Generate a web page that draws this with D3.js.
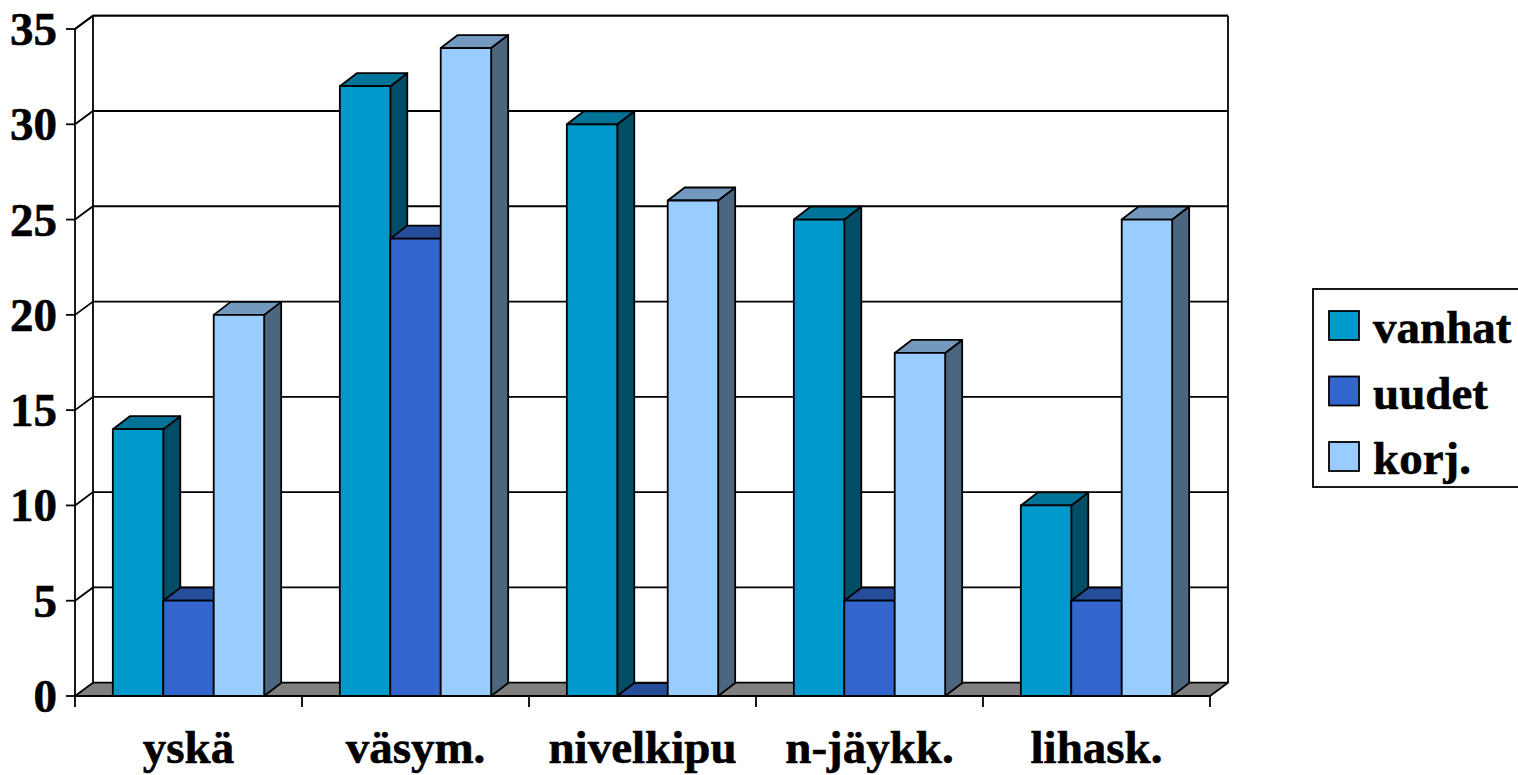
<!DOCTYPE html>
<html>
<head>
<meta charset="utf-8">
<script src="https://cdn.jsdelivr.net/npm/d3@7"></script>
<style>
  html, body { margin: 0; padding: 0; background: #fff; }
  svg { display: block; }
  text { font-family: "Liberation Serif", "Times New Roman", serif; font-weight: bold; stroke: #000; stroke-width: 0.6px; }
</style>
</head>
<body>
<svg id="chart" width="1518" height="775"></svg>
<script>
const categories = ["yskä", "väsym.", "nivelkipu", "n-jäykk.", "lihask."];
const seriesNames = ["vanhat", "uudet", "korj."];
const vanhat = [14, 32, 30, 25, 10];
const uudet  = [5, 24, 0, 5, 5];
const korj   = [20, 34, 26, 18, 25];
const yTicks = [0, 5, 10, 15, 20, 25, 30, 35];

const seriesValues = [vanhat, uudet, korj];
const colors = [
  { front: "#0099CC", side: "#004D66", top: "#007399" },
  { front: "#3366CC", side: "#1A3366", top: "#264D99" },
  { front: "#99CCFF", side: "#4D6680", top: "#7399BF" }
];

const svg = d3.select("#chart");
const wallDX = 18, wallDY = 13.3;
const barDX = 17, barDY = 13;
const fontSize = 47;

const y = d3.scaleLinear().domain([0, 35]).range([696, 29]);
const x = d3.scaleBand().domain(categories).range([75, 1210]).paddingInner(0).paddingOuter(0);
const xs = d3.scaleBand().domain(seriesNames).range([0, x.bandwidth()]).paddingInner(0).paddingOuter(0.75);

const x0 = x.range()[0], x1 = x.range()[1];
const yTop = y(35), yBot = y(0);

const g = svg.append("g");

// back wall + left wall outlines
const walls = g.append("g").attr("fill", "none").attr("stroke", "#000").attr("stroke-width", 1.8);
yTicks.forEach(t => {
  const yy = y(t);
  if (t > 0) {
    walls.append("path").attr("d", `M${x0},${yy}L${x0 + wallDX},${yy - wallDY}L${x1 + wallDX},${yy - wallDY}`);
  }
});
walls.append("path").attr("d", `M${x0 + wallDX},${yTop - wallDY}L${x0 + wallDX},${yBot - wallDY}`);
walls.append("path").attr("d", `M${x1 + wallDX},${yTop - wallDY}L${x1 + wallDX},${yBot - wallDY}`);

// floor
g.append("path")
  .attr("d", `M${x0},${yBot}L${x0 + wallDX},${yBot - wallDY}L${x1 + wallDX},${yBot - wallDY}L${x1},${yBot}Z`)
  .attr("fill", "#808080").attr("stroke", "#000").attr("stroke-width", 1.8).attr("stroke-linejoin", "round");

// bars
const bars = g.append("g").attr("stroke", "#000").attr("stroke-width", 1.8).attr("stroke-linejoin", "round");
categories.forEach((c, ci) => {
  seriesNames.forEach((s, si) => {
    const v = seriesValues[si][ci];
    const bx = x(c) + xs(s), bw = xs.bandwidth();
    const ty = y(v), by = y(0);
    const col = colors[si];
    bars.append("path")
      .attr("d", `M${bx + bw},${ty}L${bx + bw + barDX},${ty - barDY}L${bx + bw + barDX},${by - barDY}L${bx + bw},${by}Z`)
      .attr("fill", col.side);
    bars.append("path")
      .attr("d", `M${bx},${ty}L${bx + barDX},${ty - barDY}L${bx + bw + barDX},${ty - barDY}L${bx + bw},${ty}Z`)
      .attr("fill", col.top);
    if (v > 0) {
      bars.append("rect").attr("x", bx).attr("y", ty).attr("width", bw).attr("height", by - ty)
        .attr("fill", col.front);
    }
  });
});

// front axis lines
const axes = g.append("g").attr("stroke", "#000").attr("stroke-width", 1.8).attr("fill", "none");
axes.append("path").attr("d", `M${x0},${yTop}L${x0},${yBot}`);
axes.append("path").attr("d", `M${x0},${yTop}L${x0 + wallDX},${yTop - wallDY}L${x1 + wallDX},${yTop - wallDY}`);
axes.append("path").attr("d", `M${x0},${yBot}L${x1},${yBot}`);
yTicks.forEach(t => {
  axes.append("path").attr("d", `M${x0 - 9},${y(t)}L${x0},${y(t)}`);
});
const xTickPos = categories.map(c => x(c)).concat([x1]);
xTickPos.forEach(p => {
  axes.append("path").attr("d", `M${p},${yBot}L${p},${yBot + 11}`);
});

// y labels
g.append("g").selectAll("text").data(yTicks).join("text")
  .attr("x", 57).attr("y", d => y(d)).attr("dy", "0.34em")
  .attr("text-anchor", "end").attr("font-size", fontSize).text(d => d);

// x labels
g.append("g").selectAll("text").data(categories).join("text")
  .attr("x", d => x(d) + x.bandwidth() / 2).attr("y", 763)
  .attr("text-anchor", "middle").attr("font-size", fontSize).text(d => d);

// legend
const lg = svg.append("g");
lg.append("rect").attr("x", 1313).attr("y", 289).attr("width", 240).attr("height", 198)
  .attr("fill", "#fff").attr("stroke", "#000").attr("stroke-width", 1.8);
seriesNames.forEach((s, i) => {
  const yy = 311 + i * 65.5;
  lg.append("rect").attr("x", 1329).attr("y", yy).attr("width", 30).attr("height", 29)
    .attr("fill", colors[i].front).attr("stroke", "#000").attr("stroke-width", 1.8);
  lg.append("text").attr("x", 1373).attr("y", yy + 32).attr("font-size", fontSize).text(s);
});
</script>
</body>
</html>
